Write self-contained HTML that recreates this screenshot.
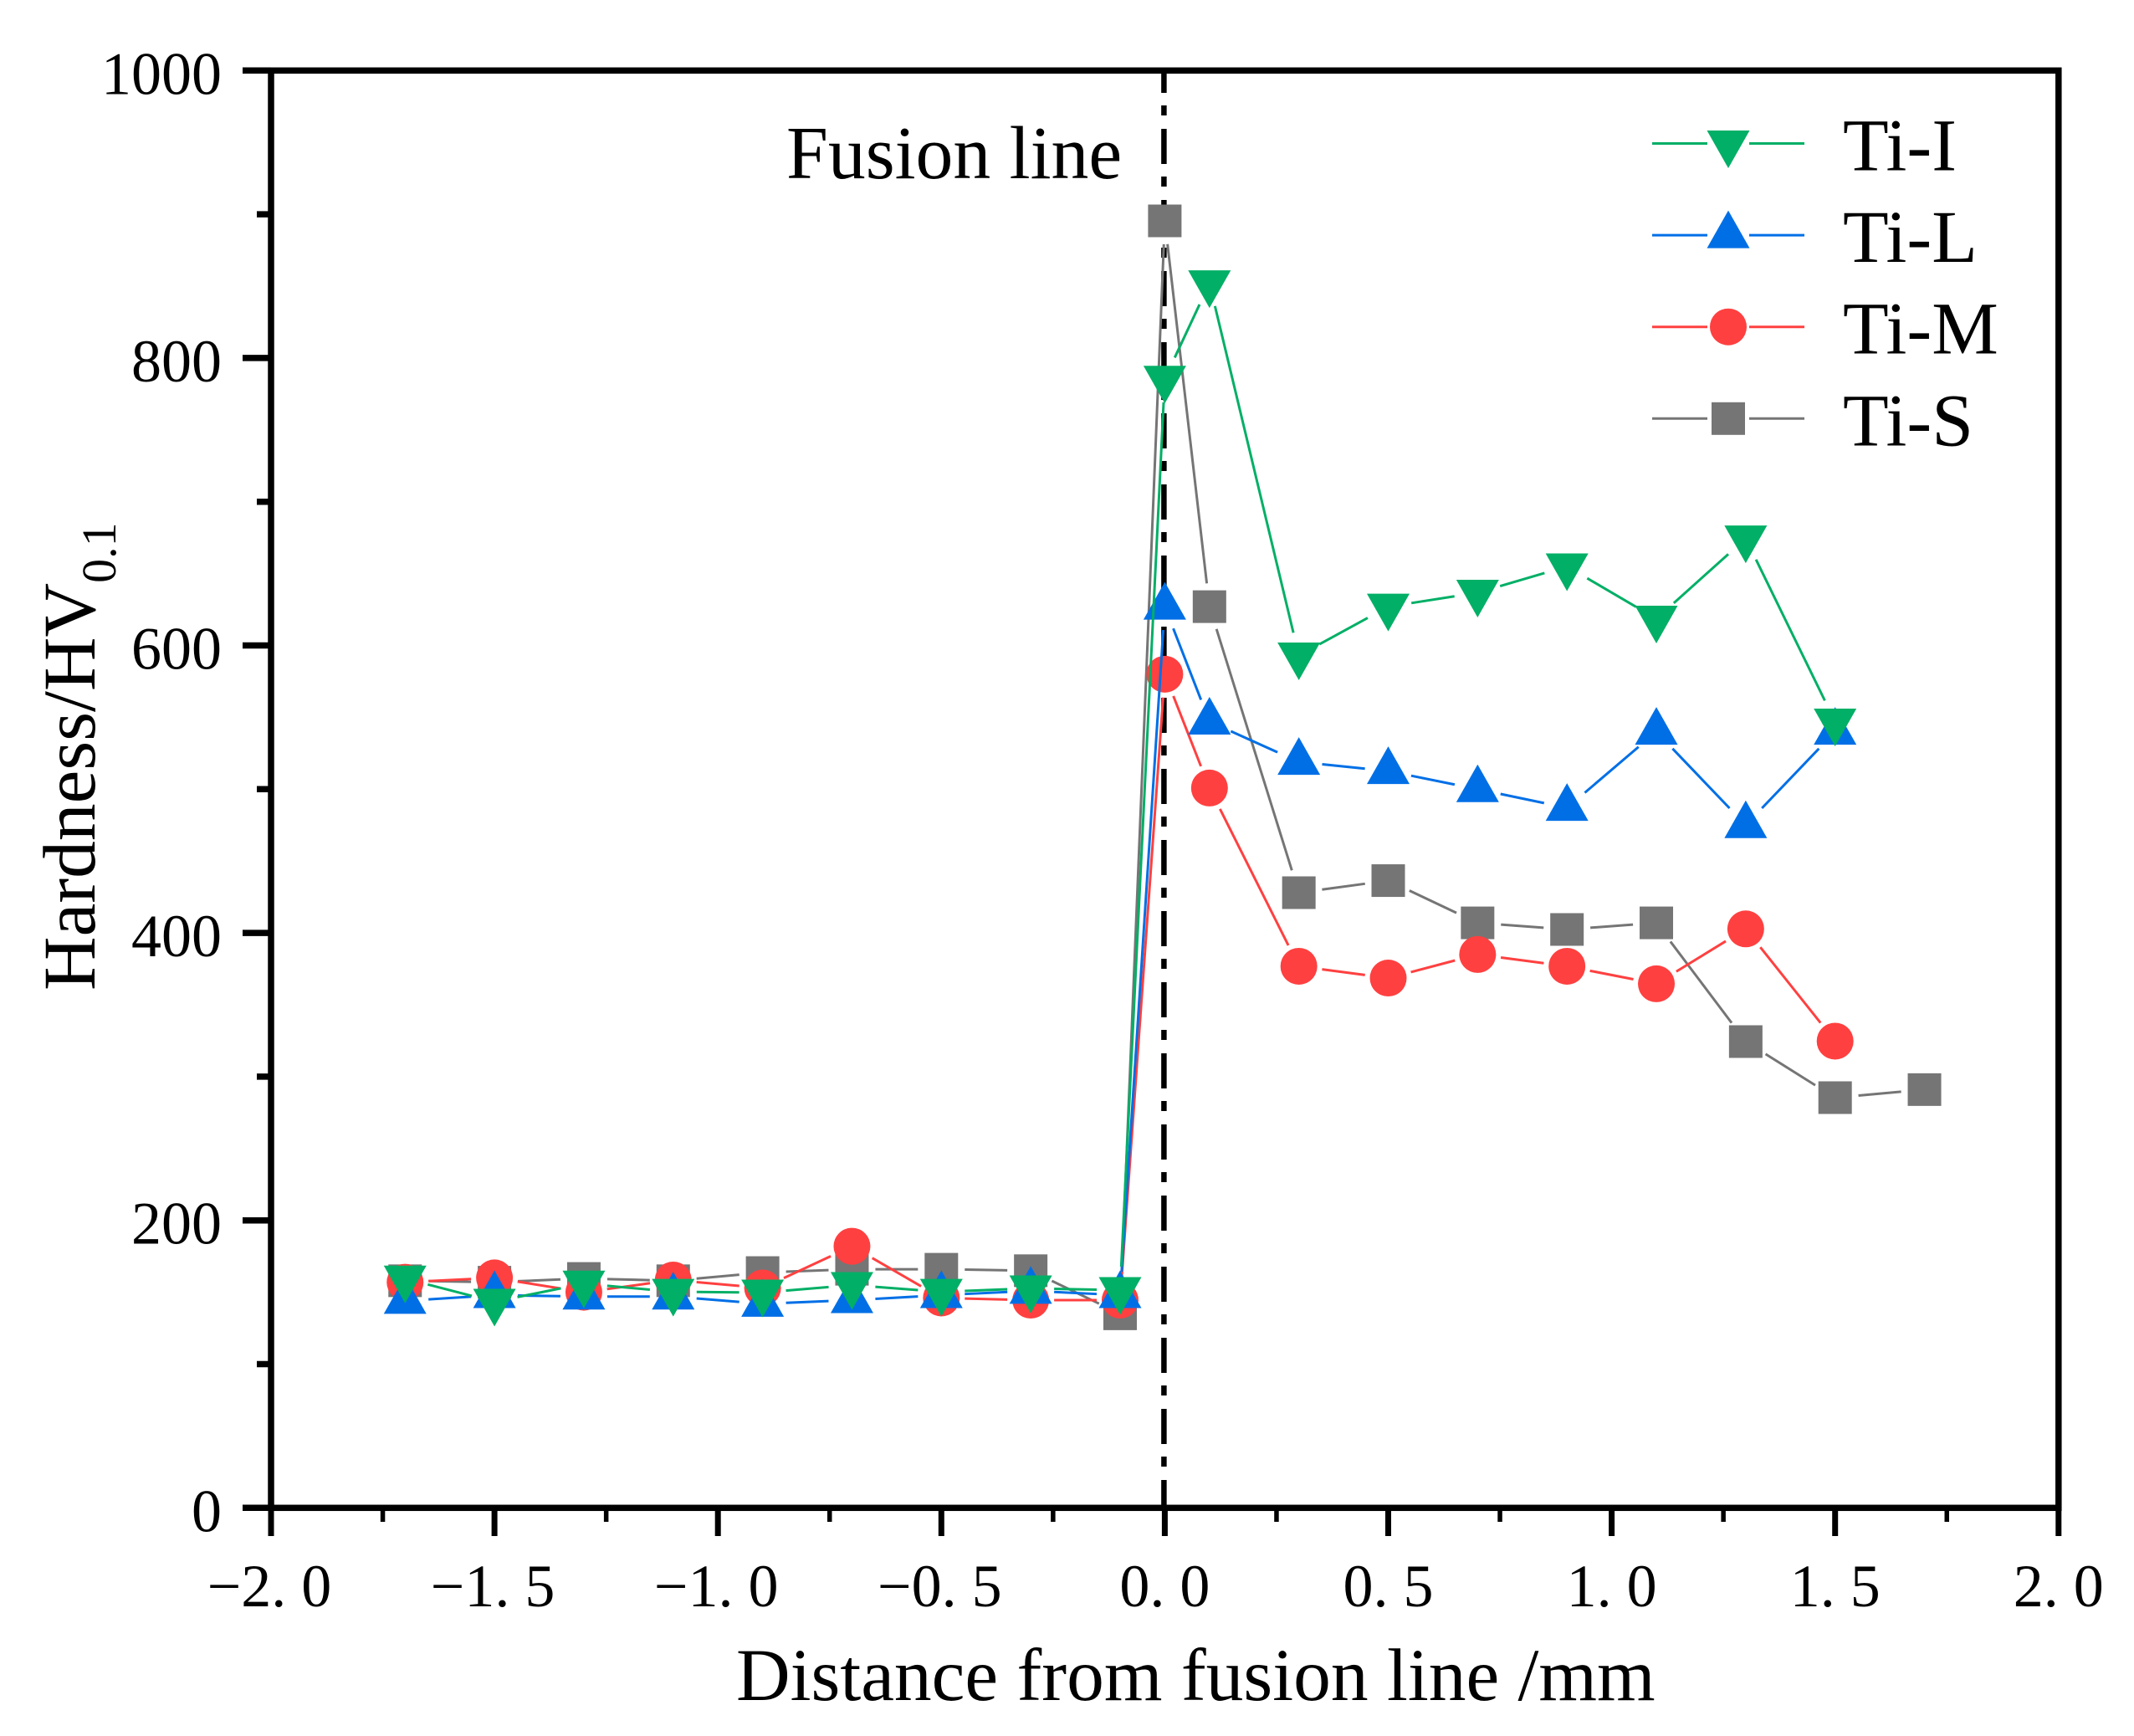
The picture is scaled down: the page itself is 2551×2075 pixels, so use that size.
<!DOCTYPE html>
<html lang="en">
<head>
<meta charset="utf-8">
<title>Hardness vs distance from fusion line</title>
<style>
html,body{margin:0;padding:0;background:#fff;}
svg{display:block;}
text{font-family:"Liberation Serif","Times New Roman",serif;fill:#000;white-space:pre;}
</style>
</head>
<body>
<svg id="chart" xmlns="http://www.w3.org/2000/svg" width="2551" height="2075" viewBox="0 0 2551 2075">
<rect x="0" y="0" width="2551" height="2075" fill="#ffffff"/>
<text transform="translate(113,1184) rotate(-90)" font-size="89.5">Hardness/HV<tspan font-size="58" dy="25">0.1</tspan></text>
<text x="880" y="2032" font-size="89.5">Distance from fusion line /mm</text>
<text x="940" y="213" font-size="89.7">Fusion line</text>
</svg>
<script>
const xTicks = [-2, -1.5, -1, -0.5, 0, 0.5, 1, 1.5, 2];
const xMinorTicks = [-1.75, -1.25, -0.75, -0.25, 0.25, 0.75, 1.25, 1.75];
const yTicks = [0, 200, 400, 600, 800, 1000];
const yMinorTicks = [100, 300, 500, 700, 900];
const distances = [-1.7, -1.5, -1.3, -1.1, -0.9, -0.7, -0.5, -0.3, -0.1, 0, 0.1, 0.3, 0.5, 0.7, 0.9, 1.1, 1.3, 1.5];
const distancesS = [-1.7, -1.5, -1.3, -1.1, -0.9, -0.7, -0.5, -0.3, -0.1, 0, 0.1, 0.3, 0.5, 0.7, 0.9, 1.1, 1.3, 1.5, 1.7];
const tiI = [159.5, 143.4, 156, 150.3, 149.8, 155, 150.3, 152.7, 151.5, 785.5, 852, 593, 627, 636.7, 655, 618.6, 674.4, 547];
const tiL = [144, 148, 147, 147, 142, 144.5, 148, 151, 148, 627, 547, 519, 512.6, 500, 487, 540, 475, 540];
const tiM = [157, 160, 150, 158.5, 153, 182, 146, 144.5, 144.5, 580, 500.8, 376.8, 368.6, 385, 376.8, 364.6, 402.8, 324.7];
const tiS = [158, 157, 159.6, 158, 163.7, 166, 166, 165, 135, 895.4, 627, 428, 436.4, 407, 402.4, 407, 324.4, 285.4, 291];

const NS = 'http://www.w3.org/2000/svg';
const svg = document.getElementById('chart');
const COLORS = {green: '#02af66', blue: '#006fe6', red: '#ff4040', gray: '#757575'};
const X0 = 1392.4, XU = 534.2, Y0 = 1802.3, YU = 1.718;
const GAP = 28;
function sx(v) { return X0 + XU * v; }
function sy(v) { return Y0 - YU * v; }
function mk(tag, attrs) {
  const e = document.createElementNS(NS, tag);
  for (const k in attrs) e.setAttribute(k, attrs[k]);
  return e;
}
function fmtX(v) { return v.toFixed(1).replace('.', '. ').replace('-', '\u2212'); }

function marker(kind, cx, cy, color) {
  if (kind === 'down') return mk('polygon', {points: (cx-25.5)+','+(cy-15.5)+' '+(cx+25.5)+','+(cy-15.5)+' '+cx+','+(cy+29.5), fill: color});
  if (kind === 'up') return mk('polygon', {points: (cx-25.5)+','+(cy+15.5)+' '+(cx+25.5)+','+(cy+15.5)+' '+cx+','+(cy-29.5), fill: color});
  if (kind === 'circle') return mk('ellipse', {cx: cx, cy: cy, rx: 22, ry: 22, fill: color});
  return mk('rect', {x: cx-20, y: cy-19.5, width: 40, height: 39, fill: color});
}

/* fusion line */
const fusion = mk('line', {x1: sx(0)-1, y1: 88, x2: sx(0)-1, y2: 1800, stroke: '#000', 'stroke-width': 6.5, 'stroke-dasharray': '42 15 12 16', 'stroke-dashoffset': 19});


svg.appendChild(fusion);

/* series */
function drawSeries(name, xs, ys, kind, color) {
  const g = mk('g', {});
  
  
  for (let i = 0; i + 1 < xs.length; i++) {
    const a = sx(xs[i]), b = sy(ys[i]), c = sx(xs[i+1]), d = sy(ys[i+1]);
    const len = Math.hypot(c-a, d-b);
    if (len <= 2 * GAP) continue;
    const ux = (c-a)/len, uy = (d-b)/len;
    const seg = mk('line', {x1: a+ux*GAP, y1: b+uy*GAP, x2: c-ux*GAP, y2: d-uy*GAP, stroke: color, 'stroke-width': 3});
    
    
    g.appendChild(seg);
  }
  for (let i = 0; i < xs.length; i++) {
    const m = marker(kind, sx(xs[i]), sy(ys[i]), color);
    
    
    g.appendChild(m);
  }
  svg.appendChild(g);
}
drawSeries('ti-s', distancesS, tiS, 'square', COLORS.gray);
drawSeries('ti-m', distances, tiM, 'circle', COLORS.red);
drawSeries('ti-l', distances, tiL, 'up', COLORS.blue);
drawSeries('ti-i', distances, tiI, 'down', COLORS.green);

/* frame */
const frame = mk('rect', {x: sx(-2), y: sy(1000), width: sx(2)-sx(-2), height: sy(0)-sy(1000), fill: 'none', stroke: '#000', 'stroke-width': 7.5});


svg.appendChild(frame);

/* x axis */
xTicks.forEach(function (v) {
  const t = mk('line', {x1: sx(v), y1: Y0, x2: sx(v), y2: 1836, stroke: '#000', 'stroke-width': 7});
  
  
  svg.appendChild(t);
  const l = mk('text', {x: sx(v) - (v < 0 ? 2 : 0), y: 1920, 'font-size': 72, 'text-anchor': 'middle'});
  
  
  l.textContent = fmtX(v);
  svg.appendChild(l);
});
xMinorTicks.forEach(function (v) {
  const t = mk('line', {x1: sx(v), y1: Y0, x2: sx(v), y2: 1819, stroke: '#000', 'stroke-width': 5.5});
  
  
  svg.appendChild(t);
});

/* y axis */
yTicks.forEach(function (v) {
  const t = mk('line', {x1: 290, y1: sy(v), x2: sx(-2), y2: sy(v), stroke: '#000', 'stroke-width': 7.5});
  
  
  svg.appendChild(t);
  const l = mk('text', {x: 265, y: sy(v) + 28, 'font-size': 72, 'text-anchor': 'end'});
  
  
  l.textContent = String(v);
  svg.appendChild(l);
});
yMinorTicks.forEach(function (v) {
  const t = mk('line', {x1: 307, y1: sy(v), x2: sx(-2), y2: sy(v), stroke: '#000', 'stroke-width': 7.5});
  
  
  svg.appendChild(t);
});

/* legend */
const legendNames = ['Ti-I', 'Ti-L', 'Ti-M', 'Ti-S'];
const legendKinds = ['down', 'up', 'circle', 'square'];
const legendColors = [COLORS.green, COLORS.blue, COLORS.red, COLORS.gray];
const legend = mk('g', {});


legendNames.forEach(function (n, i) {
  const y = 171.5 + i * 109.6;
  const g = mk('g', {});
  
  
  const a = mk('line', {x1: 1975, y1: y, x2: 2041, y2: y, stroke: legendColors[i], 'stroke-width': 3});
  
  
  g.appendChild(a);
  const b = mk('line', {x1: 2091, y1: y, x2: 2157, y2: y, stroke: legendColors[i], 'stroke-width': 3});
  
  
  g.appendChild(b);
  const m = marker(legendKinds[i], 2066, y, legendColors[i]);
  
  
  g.appendChild(m);
  const t = mk('text', {x: 2203, y: y + 32, 'font-size': 89.5});
  
  
  t.textContent = n;
  g.appendChild(t);
  legend.appendChild(g);
});
svg.appendChild(legend);
</script>
</body>
</html>
